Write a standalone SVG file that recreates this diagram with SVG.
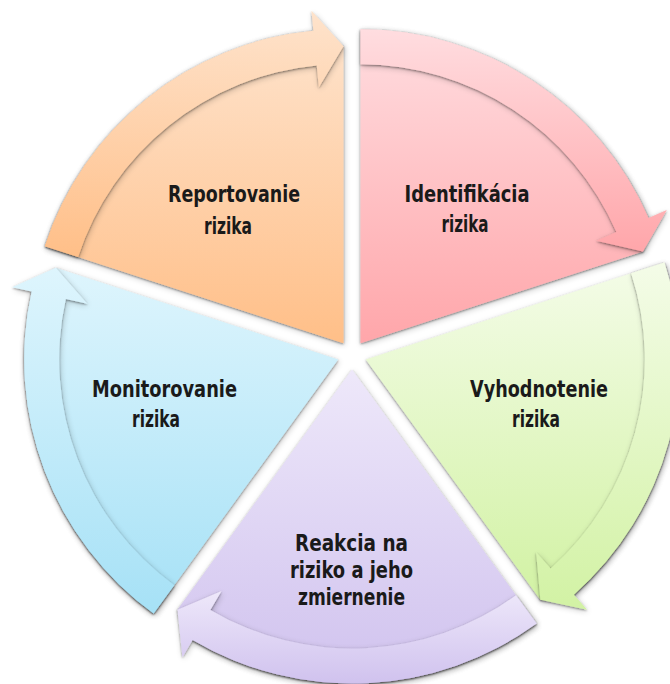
<svg xmlns="http://www.w3.org/2000/svg" width="670" height="684" viewBox="0 0 670 684">
<defs>
<linearGradient id="gO" x1="0" y1="0" x2="0" y2="1"><stop offset="0" stop-color="#FEE3CC"/><stop offset="1" stop-color="#FFBF88"/></linearGradient>
<linearGradient id="gP" x1="0" y1="0" x2="0" y2="1"><stop offset="0" stop-color="#FFDDE0"/><stop offset="1" stop-color="#FFA6AA"/></linearGradient>
<linearGradient id="gG" x1="0" y1="0" x2="0" y2="1"><stop offset="0" stop-color="#F4FCE8"/><stop offset="1" stop-color="#D2F2A4"/></linearGradient>
<linearGradient id="gV" x1="0" y1="0" x2="0" y2="1"><stop offset="0" stop-color="#EEE8FA"/><stop offset="1" stop-color="#D0C2EE"/></linearGradient>
<linearGradient id="gB" x1="0" y1="0" x2="0" y2="1"><stop offset="0" stop-color="#DEF5FD"/><stop offset="1" stop-color="#A6E1F6"/></linearGradient>
<filter id="sh" x="-10%" y="-10%" width="120%" height="120%">
<feGaussianBlur in="SourceAlpha" stdDeviation="0.8" result="b1"/>
<feOffset in="b1" dx="0" dy="0.6" result="o1"/>
<feComponentTransfer in="o1" result="s1"><feFuncA type="linear" slope="0.45"/></feComponentTransfer>
<feGaussianBlur in="SourceAlpha" stdDeviation="3" result="b2"/>
<feOffset in="b2" dx="1" dy="2" result="o2"/>
<feComponentTransfer in="o2" result="s2"><feFuncA type="linear" slope="0.22"/></feComponentTransfer>
<feMerge><feMergeNode in="s2"/><feMergeNode in="s1"/><feMergeNode in="SourceGraphic"/></feMerge>
</filter>
</defs>
<style>
.w{filter:url(#sh)}
.a{filter:url(#sh)}
.t{font-family:"DejaVu Sans Condensed","DejaVu Sans",sans-serif;font-weight:bold;font-size:23px;fill:#1a1a1a;text-anchor:middle}
</style>
<rect width="670" height="684" fill="#ffffff"/>
<g id="nodes">
<g id="reportovanie">
<path class="w" fill="url(#gO)" d="M343.48 343.27 L44.85 246.24 A314 314 0 0 1 313.38 30.71 L343.48 46.27 Z"/>
<text class="t" x="234" y="202" textLength="132" lengthAdjust="spacingAndGlyphs">Reportovanie</text>
<text class="t" x="228" y="234" textLength="48" lengthAdjust="spacingAndGlyphs">rizika</text>
</g>
<g id="identifikacia">
<path class="w" fill="url(#gP)" d="M360.52 343.27 L360.52 29.27 A314 314 0 0 1 648.48 218.06 L642.98 251.49 Z"/>
<text class="t" x="467" y="202" textLength="125" lengthAdjust="spacingAndGlyphs">Identifikácia</text>
<text class="t" x="465" y="232" textLength="47" lengthAdjust="spacingAndGlyphs">rizika</text>
</g>
<g id="vyhodnotenie">
<path class="w" fill="url(#gG)" d="M365.79 359.48 L664.42 262.45 A314 314 0 0 1 573.85 594.65 L540.36 599.76 Z"/>
<text class="t" x="539" y="397" textLength="138" lengthAdjust="spacingAndGlyphs">Vyhodnotenie</text>
<text class="t" x="536" y="427" textLength="48" lengthAdjust="spacingAndGlyphs">rizika</text>
</g>
<g id="reakcia">
<path class="w" fill="url(#gV)" d="M352 369.5 L536.57 623.53 A314 314 0 0 1 192.63 640.05 L177.43 609.78 Z"/>
<text class="t" x="351.5" y="551" textLength="113" lengthAdjust="spacingAndGlyphs">Reakcia na</text>
<text class="t" x="351.5" y="578" textLength="123" lengthAdjust="spacingAndGlyphs">riziko a jeho</text>
<text class="t" x="351.5" y="605" textLength="107" lengthAdjust="spacingAndGlyphs">zmiernenie</text>
</g>
<g id="monitorovanie">
<path class="w" fill="url(#gB)" d="M338.21 359.48 L153.64 613.51 A314 314 0 0 1 31.65 291.52 L55.75 267.70 Z"/>
<text class="t" x="164.5" y="397" textLength="145" lengthAdjust="spacingAndGlyphs">Monitorovanie</text>
<text class="t" x="156" y="427" textLength="48" lengthAdjust="spacingAndGlyphs">rizika</text>
</g>
</g>
<g id="connectors">
<path class="a" fill="url(#gO)" d="M44.85 246.24 A314 314 0 0 1 313.38 30.71 L311.47 10.81 L343.48 46.27 L318.85 87.45 L316.74 65.55 A279 279 0 0 0 78.13 257.05 Z"/>
<path class="a" fill="url(#gP)" d="M360.52 29.27 A314 314 0 0 1 648.48 218.06 L666.82 210.09 L642.98 251.49 L596.20 240.79 L616.38 232.02 A279 279 0 0 0 360.52 64.27 Z"/>
<path class="a" fill="url(#gG)" d="M664.42 262.45 A314 314 0 0 1 573.85 594.65 L587.11 609.63 L540.36 599.76 L536.08 551.96 L550.66 568.44 A279 279 0 0 0 631.14 273.26 Z"/>
<path class="a" fill="url(#gV)" d="M536.57 623.53 A314 314 0 0 1 192.63 640.05 L182.48 657.28 L177.43 609.78 L221.56 590.94 L210.40 609.89 A279 279 0 0 0 515.99 595.22 Z"/>
<path class="a" fill="url(#gB)" d="M153.64 613.51 A314 314 0 0 1 31.65 291.52 L12.13 287.19 L55.75 267.70 L87.30 303.85 L65.82 299.09 A279 279 0 0 0 174.22 585.20 Z"/>
</g>
</svg>
